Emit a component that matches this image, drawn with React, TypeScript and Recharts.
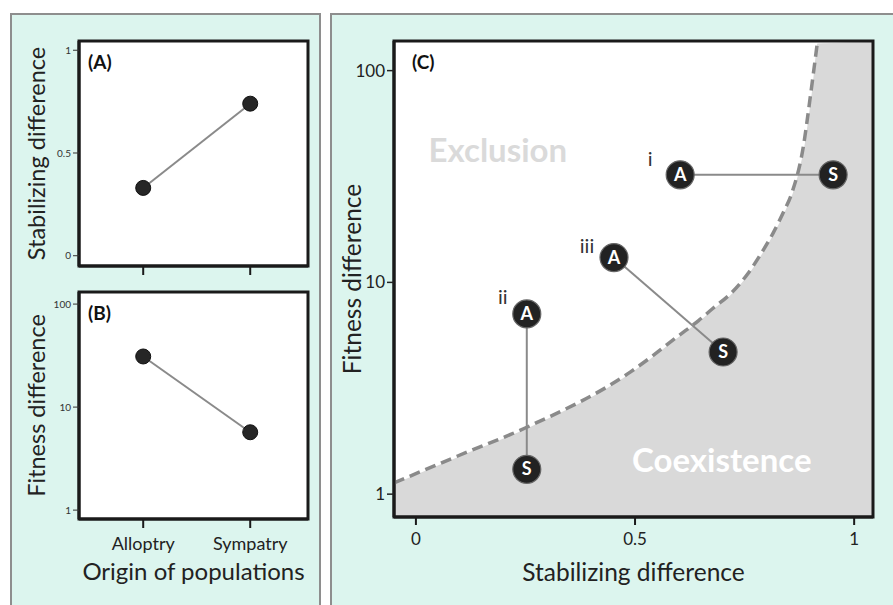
import React from 'react';
import {
  ComposedChart,
  Line,
  Area,
  Scatter,
  XAxis,
  YAxis,
  CartesianGrid,
  ReferenceDot,
  ReferenceArea,
} from 'recharts';

// panels A and B: two populations
const originLabels = ['Alloptry', 'Sympatry'];
const originPos = [0, 1];
const stabilizingByOrigin = [0.33, 0.74];
const fitnessByOrigin = [31, 5.7];

const stabTicks = [0, 0.5, 1];
const fitTicks = [1, 10, 100];

// panel C: allopatric (A) vs sympatric (S) pairs
const pairTags = ['i', 'ii', 'iii'];
const allopatricStab = [0.603, 0.253, 0.452];
const allopatricFit = [32.2, 7.1, 13.1];
const sympatricStab = [0.952, 0.253, 0.701];
const sympatricFit = [32.2, 1.31, 4.69];

// coexistence boundary
const boundaryStab = [-0.05, 0.094, 0.253, 0.489, 0.534, 0.596, 0.645, 0.678, 0.717, 0.756, 0.785, 0.815, 0.838, 0.858, 0.884, 0.9, 0.916];
const boundaryFit = [1.13, 1.51, 2.07, 3.77, 4.4, 5.53, 6.6, 7.55, 8.8, 10.9, 13.4, 17.1, 21.3, 26.5, 43.7, 75.4, 135.6];

const INK = '#1a1a1a';
const MINT = '#dcf5ee';
const PANEL_BORDER = '#8e8e8e';
const LINK = '#8a8a8a';
const REGION = '#d9d9d9';
const FONT = 'Lato, "Open Sans", sans-serif';

const AB_X_DOMAIN: [number, number] = [-0.6, 1.54];
const C_X_DOMAIN: [number, number] = [-0.05, 1.043];
const C_Y_DOMAIN: [number, number] = [0.78, 138];

const tagOffset: Record<string, [number, number]> = {
  i: [-30, -9],
  ii: [-24, -10],
  iii: [-27, -5],
};

function PairMarker(p: any) {
  const { cx, cy, payload } = p;
  if (cx == null || cy == null) return null;
  const off = payload.tag ? tagOffset[payload.tag] : null;
  return (
    <g>
      <circle cx={cx} cy={cy} r={14} fill="#222" stroke="#666" strokeWidth={1.2} />
      <text x={cx} y={cy + 6} textAnchor="middle" fill="#fff" fontSize={18} fontWeight={700}>
        {payload.letter}
      </text>
      {off && (
        <text x={cx + off[0]} y={cy + off[1]} textAnchor="middle" fill="#333" fontSize={20}>
          {payload.tag}
        </text>
      )}
    </g>
  );
}

function SmallDot(p: any) {
  if (p.cx == null || p.cy == null) return null;
  return <circle key={p.index} cx={p.cx} cy={p.cy} r={7.5} fill="#262626" stroke="#111" strokeWidth={1} />;
}

function textShape(text: string, opts: { size: number; weight?: number; fill: string; anchor?: string }) {
  return (p: any) => (
    <text
      x={p.cx}
      y={p.cy + opts.size * 0.35}
      textAnchor={opts.anchor ?? 'start'}
      fontSize={opts.size}
      fontWeight={opts.weight ?? 400}
      fill={opts.fill}
    >
      {text}
    </text>
  );
}

function OriginPanel(props: {
  top: number;
  height: number;
  xAxisHeight: number;
  marginTop: number;
  values: number[];
  log?: boolean;
  yDomain: [number, number];
  yTicks: number[];
  yTitle: string;
  xTitle?: string;
  showNames: boolean;
  tag: string;
  tagY: number;
}) {
  const data = originPos.map((x, i) => ({ x, y: props.values[i] }));
  return (
    <div style={{ position: 'absolute', left: -5, top: props.top }}>
      <ComposedChart
        width={323}
        height={props.height}
        data={data}
        margin={{ top: props.marginTop, right: 10, bottom: 0, left: 0 }}
      >
        <CartesianGrid fill="#fff" horizontal={false} vertical={false} stroke="none" />
        <XAxis
          dataKey="x"
          type="number"
          domain={AB_X_DOMAIN}
          ticks={originPos}
          allowDataOverflow
          height={props.xAxisHeight}
          axisLine={{ stroke: INK, strokeWidth: 3 }}
          tickLine={{ stroke: INK, strokeWidth: 2 }}
          tickSize={9}
          tickMargin={9}
          tick={{ fontSize: 18, fill: '#222' }}
          tickFormatter={(v) => (props.showNames ? originLabels[originPos.indexOf(Number(v))] : '')}
          label={
            props.xTitle
              ? { value: props.xTitle, position: 'center', fontSize: 24, fill: '#222' }
              : undefined
          }
        />
        <YAxis
          type="number"
          scale={props.log ? 'log' : 'linear'}
          domain={props.yDomain}
          ticks={props.yTicks}
          allowDataOverflow
          width={84}
          axisLine={{ stroke: INK, strokeWidth: 3 }}
          tickLine={{ stroke: '#333', strokeWidth: 1 }}
          tickSize={6}
          tickMargin={2}
          tick={{ fontSize: 10, fill: '#333' }}
          label={{ value: props.yTitle, angle: -90, position: 'center', fontSize: 23.5, fill: '#222' }}
        />
        <Line
          dataKey="y"
          stroke={LINK}
          strokeWidth={2}
          dot={SmallDot}
          activeDot={false}
          isAnimationActive={false}
        />
        <ReferenceArea
          x1={AB_X_DOMAIN[0]}
          x2={AB_X_DOMAIN[1]}
          y1={props.yDomain[0]}
          y2={props.yDomain[1]}
          fill="none"
          stroke={INK}
          strokeWidth={3}
          ifOverflow="visible"
        />
        <ReferenceDot
          x={-0.516}
          y={props.tagY}
          r={1}
          shape={textShape(props.tag, { size: 19, weight: 700, fill: '#111' })}
        />
      </ComposedChart>
    </div>
  );
}

function ModelPanel() {
  const boundary = boundaryStab.map((x, i) => ({ x, y: boundaryFit[i] }));
  const region = [...boundary, { x: C_X_DOMAIN[1], y: C_Y_DOMAIN[1] }];
  const markers = pairTags.flatMap((tag, i) => [
    { x: allopatricStab[i], y: allopatricFit[i], letter: 'A', tag },
    { x: sympatricStab[i], y: sympatricFit[i], letter: 'S', tag: '' },
  ]);
  return (
    <div style={{ position: 'absolute', left: 310, top: 0 }}>
      <ComposedChart width={573} height={627} margin={{ top: 41, right: 10, bottom: 0, left: 0 }}>
        <CartesianGrid fill="#fff" horizontal={false} vertical={false} stroke="none" />
        <XAxis
          dataKey="x"
          type="number"
          domain={C_X_DOMAIN}
          ticks={stabTicks}
          allowDataOverflow
          height={110}
          axisLine={{ stroke: INK, strokeWidth: 3 }}
          tickLine={{ stroke: INK, strokeWidth: 2 }}
          tickSize={8}
          tickMargin={8}
          tick={{ fontSize: 17, fill: '#222' }}
          label={{ value: 'Stabilizing difference', position: 'center', fontSize: 24.5, fill: '#222' }}
        />
        <YAxis
          type="number"
          scale="log"
          domain={C_Y_DOMAIN}
          ticks={fitTicks}
          allowDataOverflow
          width={84}
          axisLine={{ stroke: INK, strokeWidth: 3 }}
          tickLine={{ stroke: '#222', strokeWidth: 1.5 }}
          tickSize={7}
          tickMargin={2}
          tick={{ fontSize: 17, fill: '#222' }}
          label={{ value: 'Fitness difference', angle: -90, position: 'center', fontSize: 24.5, fill: '#222' }}
        />
        <Area
          data={region}
          dataKey="y"
          type="monotone"
          fill={REGION}
          fillOpacity={1}
          stroke="#fff"
          strokeWidth={2}
          isAnimationActive={false}
          activeDot={false}
        />
        <Line
          data={boundary}
          dataKey="y"
          type="monotone"
          stroke="#8a8a8a"
          strokeWidth={3.5}
          strokeDasharray="11 6"
          dot={false}
          activeDot={false}
          isAnimationActive={false}
        />
        {pairTags.map((tag, i) => (
          <Line
            key={tag}
            data={[
              { x: allopatricStab[i], y: allopatricFit[i] },
              { x: sympatricStab[i], y: sympatricFit[i] },
            ]}
            dataKey="y"
            stroke={LINK}
            strokeWidth={2}
            dot={false}
            activeDot={false}
            isAnimationActive={false}
          />
        ))}
        <Scatter data={markers} dataKey="y" shape={PairMarker} isAnimationActive={false} />
        <ReferenceArea
          x1={C_X_DOMAIN[0]}
          x2={C_X_DOMAIN[1]}
          y1={C_Y_DOMAIN[0]}
          y2={C_Y_DOMAIN[1]}
          fill="none"
          stroke={INK}
          strokeWidth={3}
          ifOverflow="visible"
        />
        <ReferenceDot x={-0.009} y={109.7} r={1} shape={textShape('(C)', { size: 19, weight: 700, fill: '#111' })} />
        <ReferenceDot
          x={0.187}
          y={42.2}
          r={1}
          shape={textShape('Exclusion', { size: 33, weight: 700, fill: '#dadada', anchor: 'middle' })}
        />
        <ReferenceDot
          x={0.698}
          y={1.45}
          r={1}
          shape={textShape('Coexistence', { size: 33, weight: 700, fill: '#fff', anchor: 'middle' })}
        />
      </ComposedChart>
    </div>
  );
}

export default function App() {
  return (
    <div
      style={{
        position: 'absolute',
        left: 0,
        top: 0,
        width: 893,
        height: 605,
        overflow: 'hidden',
        background: '#fff',
        fontFamily: FONT,
      }}
    >
      <div
        style={{
          position: 'absolute',
          left: 10,
          top: 13,
          width: 311,
          height: 620,
          boxSizing: 'border-box',
          background: MINT,
          border: `2px solid ${PANEL_BORDER}`,
        }}
      />
      <div
        style={{
          position: 'absolute',
          left: 330,
          top: 13,
          width: 620,
          height: 620,
          boxSizing: 'border-box',
          background: MINT,
          border: `2px solid ${PANEL_BORDER}`,
        }}
      />
      <OriginPanel
        top={0}
        height={290}
        xAxisHeight={24}
        marginTop={41}
        values={stabilizingByOrigin}
        yDomain={[-0.05, 1.045]}
        yTicks={stabTicks}
        yTitle="Stabilizing difference"
        showNames={false}
        tag="(A)"
        tagY={0.943}
      />
      <OriginPanel
        top={250}
        height={373}
        xAxisHeight={104}
        marginTop={42}
        values={fitnessByOrigin}
        log
        yDomain={[0.82, 131]}
        yTicks={fitTicks}
        yTitle="Fitness difference"
        xTitle="Origin of populations"
        showNames
        tag="(B)"
        tagY={82}
      />
      <ModelPanel />
    </div>
  );
}
